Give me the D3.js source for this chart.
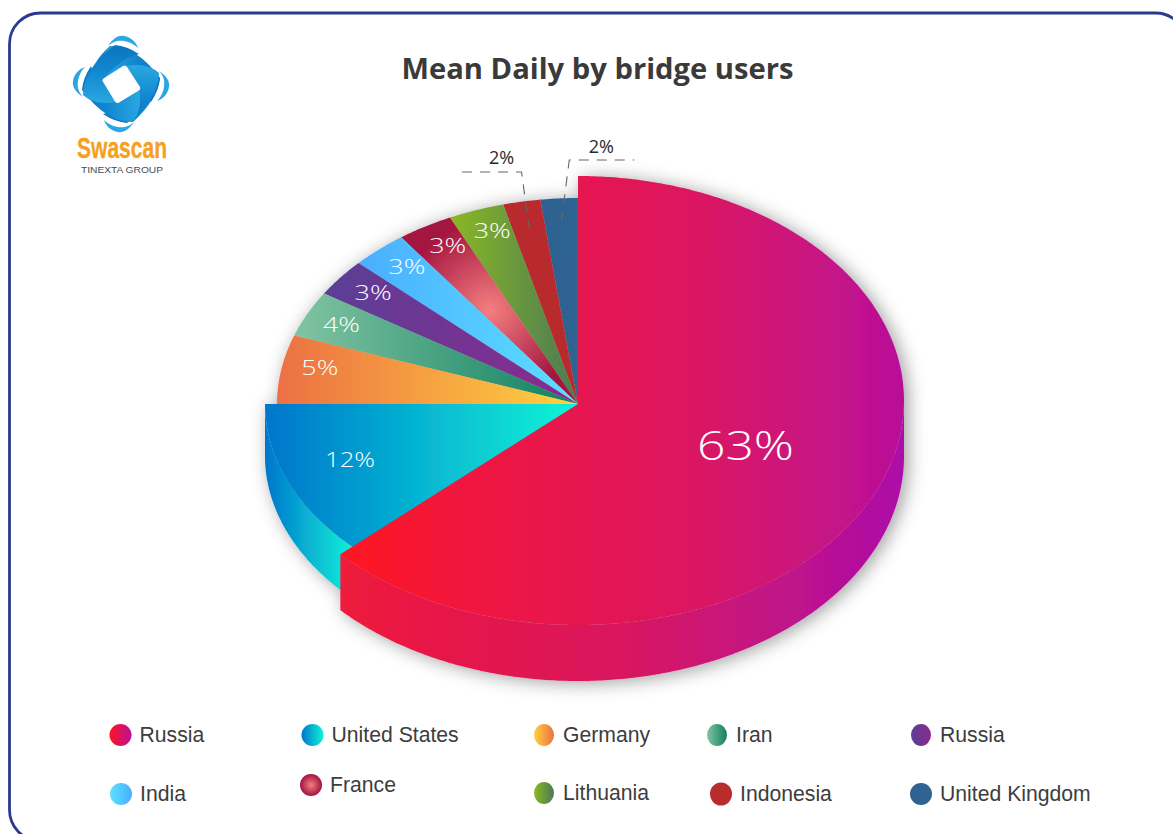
<!DOCTYPE html>
<html>
<head>
<meta charset="utf-8">
<title>Mean Daily by bridge users</title>
<script src="https://cdn.jsdelivr.net/npm/d3@7/dist/d3.min.js"></script>
<style>
  html, body { margin: 0; padding: 0; background: #fff; overflow: hidden; }
  svg { display: block; }
</style>
</head>
<body>
<svg id="chart" width="1173" height="834"></svg>
<script>
// Chart content
const chartTitle = "Mean Daily by bridge users";
const categories = ["Russia", "United States", "Germany", "Iran", "Russia", "India", "France", "Lithuania", "Indonesia", "United Kingdom"];
const shares = [63, 12, 5.4, 3.6, 3, 3, 3, 3, 2, 2];

// Fill ramps for the slices, left colour then right colour
const rampLeft  = ["#ff1320", "#0075cc", "#ec7044", "#82c4a3", "#5a3f96", "#4aaeff", "#f47f7f", "#8ab824", "#b92b2d", "#2f6090"];
const rampRight = ["#b9109a", "#0df5d6", "#ffd23f", "#0f8060", "#8a2a8e", "#5ce0ff", "#a3123f", "#4a7a55", "#b92b2d", "#2f6592"];

// Legend grid: marker centre per entry, with the text following it
const legendCx = [120.5, 312.5, 544, 717, 921, 121, 311, 544, 721, 921];
const legendCy = [735, 735, 735, 735, 735, 794, 785, 793, 794, 794];
const legendFlip = [false, false, true, false, false, true, false, false, false, false];

// Fine placement of the inside labels relative to their slice anchor
const labelDx = [0, -1, 0, -1, 2, 2, 3, 3];
const labelDy = [-8, -4, -6, -1, -2, -3, -4, -5];

const svg = d3.select("#chart");
const defs = svg.append("defs");
const cx = 578, cy = 404;

// Ellipse used by each slice: the leading slices are pulled out and larger
function shape(i) {
  if (i === 0) return { rx: 326, ry: 224.5, oy: -3.5, depth: 56, k: 0.56 };
  if (i === 1) return { rx: 313, ry: 206, oy: 0, depth: 52, k: 0.78 };
  return { rx: 301, ry: 206, oy: 0, depth: 0, k: 0.87 };
}

const pie = d3.pie().sort(null).value(d => d);
const arcs = pie(shares);

function rim(a0, a1, g, extraY) {
  const n = Math.max(2, Math.ceil((a1 - a0) / 0.01));
  return d3.range(n + 1).map(j => {
    const a = a0 + (a1 - a0) * j / n;
    return [cx + g.rx * Math.sin(a), cy + g.oy + extraY - g.ry * Math.cos(a)];
  });
}
const line = d3.line();

function topPath(a0, a1, g) {
  return line([[cx, cy], ...rim(a0, a1, g, 0)]) + "Z";
}
function wallPath(a0, a1, g) {
  return line([...rim(a0, a1, g, 0), ...rim(a0, a1, g, g.depth).reverse()]) + "Z";
}

function linearGrad(id, stops, x1, x2) {
  const lg = defs.append("linearGradient").attr("id", id);
  if (x1 !== undefined) lg.attr("gradientUnits", "userSpaceOnUse").attr("x1", x1).attr("x2", x2).attr("y1", 0).attr("y2", 0);
  stops.forEach(s => lg.append("stop").attr("offset", s[0]).attr("stop-color", s[1]));
}

// Slice gradients span the horizontal extent of each slice
arcs.forEach((d, i) => {
  const g = shape(i);
  const xs = rim(d.startAngle, d.endAngle, g, 0).map(p => p[0]);
  const x0 = d3.min(xs), x1 = cx;
  if (i === 6) {
    const rg = defs.append("radialGradient").attr("id", "slice6")
      .attr("gradientUnits", "userSpaceOnUse").attr("cx", 490).attr("cy", 310).attr("r", 92);
    rg.append("stop").attr("offset", 0).attr("stop-color", rampLeft[6]);
    rg.append("stop").attr("offset", 1).attr("stop-color", rampRight[6]);
  } else if (i === 0) {
    linearGrad("slice0", [[0, rampLeft[0]], [0.22, "#f0153f"], [0.62, "#dc1760"], [1, rampRight[0]]], 340, 904);
  } else {
    linearGrad("slice" + i, [[0, rampLeft[i]], [1, rampRight[i]]], x0, x1);
  }
  // Legend swatch carries the same colours in a bounding-box gradient
  if (i === 6) {
    const rg = defs.append("radialGradient").attr("id", "swatch6");
    rg.append("stop").attr("offset", 0).attr("stop-color", rampLeft[6]);
    rg.append("stop").attr("offset", 1).attr("stop-color", rampRight[6]);
  } else {
    const a = legendFlip[i] ? rampRight[i] : rampLeft[i];
    const b = legendFlip[i] ? rampLeft[i] : rampRight[i];
    linearGrad("swatch" + i, [[0, a], [1, b]]);
  }
});
linearGrad("wall0", [[0, "#ee1a3c"], [0.5, "#d9175f"], [1, "#ad0fa8"]], 340, 904);
linearGrad("wall1", [[0, "#0075cc"], [1, "#10f0d8"]], 265, 352);
linearGrad("logoBody", [[0, "#2aa7e1"], [0.55, "#1288cf"], [1, "#0b74bd"]]);

const shadow = defs.append("filter").attr("id", "pieShadow")
  .attr("filterUnits", "userSpaceOnUse")
  .attr("x", 200).attr("y", 120).attr("width", 780).attr("height", 620);
shadow.append("feDropShadow")
  .attr("dx", 4).attr("dy", 2).attr("stdDeviation", 9)
  .attr("flood-color", "#000").attr("flood-opacity", 0.38);

// Frame
svg.append("rect")
  .attr("x", 9.5).attr("y", 13).attr("width", 1177).attr("height", 828).attr("rx", 31)
  .attr("fill", "none").attr("stroke", "#2b3990").attr("stroke-width", 2.8);

// Title
svg.append("text")
  .attr("x", 597.5).attr("y", 79)
  .attr("text-anchor", "middle")
  .attr("font-family", "'Open Sans', sans-serif")
  .attr("font-weight", 700).attr("font-size", 29.2).attr("fill", "#3a3a3a")
  .text(chartTitle);

// Pie body: walls first, then the top faces, drawn back to front
const body = svg.append("g").attr("filter", "url(#pieShadow)");
body.append("path").attr("d", wallPath(arcs[1].startAngle, arcs[1].endAngle, shape(1))).attr("fill", "url(#wall1)");

[9, 8, 7, 6, 5, 4, 3, 2, 1].forEach(i => {
  // The pulled-out slice covers the seam, so its neighbour tucks slightly under it
  const a0 = i === 1 ? arcs[i].startAngle - 0.03 : arcs[i].startAngle;
  body.append("path").attr("d", topPath(a0, arcs[i].endAngle, shape(i))).attr("fill", `url(#slice${i})`);
});
body.append("path").attr("d", wallPath(Math.PI / 2, arcs[0].endAngle, shape(0))).attr("fill", "url(#wall0)");
body.append("path").attr("d", topPath(arcs[0].startAngle, arcs[0].endAngle, shape(0))).attr("fill", "url(#slice0)");

// Percentage labels
const pctText = v => Math.round(v) + "%";
function labelPoint(d, i, k) {
  const g = shape(i), a = (d.startAngle + d.endAngle) / 2;
  return [cx + g.rx * k * Math.sin(a), cy + g.ry * k * -Math.cos(a)];
}
arcs.forEach((d, i) => {
  if (i >= 8) return;
  const g = shape(i);
  const p = labelPoint(d, i, g.k);
  const size = i === 0 ? 40 : 21;
  const txt = pctText(d.value);
  svg.append("text")
    .attr("x", p[0] + labelDx[i]).attr("y", p[1] + labelDy[i] + size * 0.36)
    .attr("text-anchor", "middle")
    .attr("font-family", "'Open Sans', sans-serif")
    .attr("font-weight", 300)
    .attr("font-size", size).attr("fill", "#fff")
    .attr("textLength", i === 0 ? 97 : (i === 1 ? 50 : 37))
    .attr("lengthAdjust", "spacingAndGlyphs")
    .text(txt);
});

// Outside labels with dashed leaders for the two smallest slices
[[8, -1, 0.86, 58, 65, 20], [9, 1, 0.885, 62, 65, 32]].forEach(([i, dir, k, rise, run, lx]) => {
  const p = labelPoint(arcs[i], i, k);
  const elbowX = p[0] + dir * 8, topY = p[1] - rise;
  svg.append("path")
    .attr("d", line([p, [elbowX, topY], [elbowX + dir * run, topY]]))
    .attr("fill", "none").attr("stroke", "#666").attr("stroke-width", 1.1)
    .attr("stroke-dasharray", "10 8");
  svg.append("text")
    .attr("x", elbowX + dir * lx).attr("y", topY - 7.5)
    .attr("text-anchor", "middle")
    .attr("font-family", "'Open Sans', sans-serif")
    .attr("font-size", 18).attr("fill", "#2a2a2a")
    .text(pctText(arcs[i].value));
});

// Legend
const legend = svg.append("g").selectAll("g").data(categories).join("g");
legend.append("ellipse")
  .attr("cx", (d, i) => legendCx[i]).attr("cy", (d, i) => legendCy[i])
  .attr("rx", (d, i) => (i === 2 || i === 3 || i === 4 || i === 7) ? 10 : 11)
  .attr("ry", (d, i) => i === 8 ? 11.5 : 11)
  .attr("fill", (d, i) => `url(#swatch${i})`);
legend.append("text")
  .attr("x", (d, i) => legendCx[i] + 19).attr("y", (d, i) => legendCy[i] + 7)
  .attr("font-family", "'Liberation Sans', Arial, sans-serif")
  .attr("font-size", 21.2).attr("fill", "#3d3d3d")
  .text(d => d);

// Brand mark: thin crescents and four swept blades around a white rounded diamond
const logo = svg.append("g").attr("transform", "translate(121,84)");
[0, 90, 180, 270].forEach(r => {
  logo.append("path")
    .attr("transform", `rotate(${r})`)
    .attr("d", "M-13,-38 C-8,-46 -2,-49 3,-48 C10,-47 15,-42 17,-36 C11,-42 3,-44 -4,-43 C-8,-42 -11,-40 -13,-38 Z")
    .attr("fill", "#2aa7e1");
});
logo.append("path")
  .attr("d", "M-11,-38 Q15,-38 39,-6 Q36,16 12,38 Q-15,36 -37,8 Q-30,-22 -11,-38 Z")
  .attr("fill", "#1288cf");
[0, 90, 180, 270].forEach(r => {
  logo.append("path")
    .attr("transform", `rotate(${r})`)
    .attr("d", "M-11,-38 Q15,-38 39,-6 Q38,6 30,18 Q25,-2 4,-18 L-18,-5 Q-22,-26 -11,-38 Z")
    .attr("fill", "url(#logoBody)");
});
logo.append("path")
  .attr("d", "M-18.5,-3 Q-19,-5 -16,-6.5 L2,-18 Q4.5,-19.5 6,-17 L19,3 Q20,5.5 17,7 L-2,18.5 Q-4.5,20 -6,17.5 Z")
  .attr("fill", "#fff");

svg.append("text")
  .attr("x", 77).attr("y", 158)
  .attr("font-family", "'Liberation Sans Narrow', 'Liberation Sans', sans-serif")
  .attr("font-weight", 700).attr("font-size", 30).attr("fill", "#f5a01f")
  .attr("stroke", "#f5a01f").attr("stroke-width", 0.3)
  .attr("textLength", 90).attr("lengthAdjust", "spacingAndGlyphs")
  .text("Swascan");
svg.append("text")
  .attr("x", 81).attr("y", 173)
  .attr("font-family", "'Liberation Sans', sans-serif")
  .attr("font-size", 9.8).attr("fill", "#444e58")
  .attr("textLength", 82).attr("lengthAdjust", "spacingAndGlyphs")
  .text("TINEXTA GROUP");
</script>
</body>
</html>
